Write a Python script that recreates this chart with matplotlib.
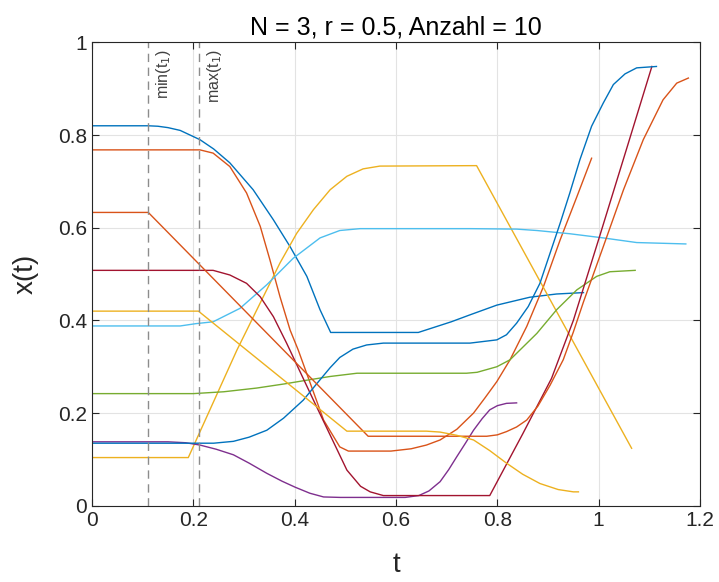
import matplotlib
matplotlib.use('Agg')
import matplotlib.pyplot as plt

plt.rcParams['font.family'] = ['Liberation Sans', 'DejaVu Sans']

# digitised trajectories (t, x)
t1 = [0, 0.111, 0.13, 0.15, 0.174, 0.213, 0.24, 0.272, 0.318, 0.358, 0.391, 0.424, 0.450, 0.471,
      0.644, 0.709, 0.746, 0.799, 0.864, 0.917, 0.970]
x1 = [0.820, 0.820, 0.819, 0.816, 0.810, 0.790, 0.770, 0.740, 0.682, 0.617, 0.559, 0.495, 0.423, 0.374,
      0.374, 0.397, 0.412, 0.433, 0.450, 0.457, 0.460]

t2 = [0, 0.213, 0.239, 0.272, 0.305, 0.332, 0.351, 0.371, 0.391, 0.407, 0.457, 0.489, 0.506,
      0.59, 0.63, 0.66, 0.687, 0.72, 0.753, 0.775, 0.799, 0.825, 0.858, 0.891, 0.924, 0.957, 0.986]
x2 = [0.768, 0.768, 0.761, 0.732, 0.675, 0.603, 0.531, 0.451, 0.379, 0.336, 0.185, 0.127, 0.118,
      0.118, 0.123, 0.131, 0.142, 0.165, 0.200, 0.232, 0.268, 0.315, 0.387, 0.473, 0.574, 0.667, 0.750]

t3 = [0, 0.190, 0.286, 0.338, 0.371, 0.404, 0.437, 0.470, 0.503, 0.535, 0.568, 0.759, 1.065]
x3 = [0.104, 0.104, 0.336, 0.451, 0.524, 0.588, 0.639, 0.682, 0.711, 0.727, 0.733, 0.734, 0.124]

t4 = [0, 0.15, 0.185, 0.213, 0.245, 0.279, 0.31, 0.345, 0.375, 0.401, 0.43, 0.457, 0.49,
      0.618, 0.645, 0.665, 0.687, 0.704, 0.720, 0.737, 0.753, 0.77, 0.785, 0.80, 0.818, 0.838]
x4 = [0.138, 0.138, 0.136, 0.131, 0.122, 0.110, 0.092, 0.070, 0.053, 0.040, 0.027, 0.019, 0.018,
      0.018, 0.022, 0.032, 0.052, 0.078, 0.106, 0.135, 0.163, 0.188, 0.207, 0.216, 0.221, 0.222]

t5 = [0, 0.2, 0.26, 0.325, 0.38, 0.424, 0.47, 0.523, 0.739, 0.76, 0.799, 0.825, 0.878, 0.917, 0.957,
      0.996, 1.022, 1.072]
x5 = [0.242, 0.242, 0.246, 0.254, 0.263, 0.271, 0.279, 0.286, 0.286, 0.288, 0.300, 0.315, 0.372, 0.423, 0.466,
      0.495, 0.505, 0.508]

t6 = [0, 0.174, 0.205, 0.239, 0.292, 0.345, 0.397, 0.450, 0.489, 0.529, 0.746, 0.838, 0.878, 0.943,
      1.009, 1.075, 1.172]
x6 = [0.388, 0.388, 0.393, 0.397, 0.426, 0.477, 0.534, 0.578, 0.594, 0.598, 0.598, 0.597, 0.594, 0.587,
      0.578, 0.568, 0.565]

t7 = [0, 0.239, 0.272, 0.305, 0.332, 0.358, 0.384, 0.437, 0.503, 0.53, 0.549, 0.575,
      0.785, 0.85, 0.907, 0.95, 1.0, 1.055, 1.105]
x7 = [0.508, 0.508, 0.498, 0.480, 0.451, 0.408, 0.351, 0.228, 0.077, 0.042, 0.030, 0.022,
      0.022, 0.155, 0.275, 0.400, 0.575, 0.770, 0.948]

t8 = [0, 0.24, 0.279, 0.31, 0.345, 0.378, 0.417, 0.444, 0.47, 0.489, 0.515, 0.542, 0.575, 0.746,
      0.799, 0.818, 0.838, 0.861, 0.884, 0.904, 0.924, 0.943, 0.963, 0.986, 1.009, 1.029, 1.052, 1.075, 1.114]
x8 = [0.135, 0.135, 0.139, 0.148, 0.163, 0.189, 0.228, 0.264, 0.298, 0.320, 0.338, 0.347, 0.351, 0.351,
      0.358, 0.369, 0.394, 0.430, 0.480, 0.545, 0.610, 0.675, 0.747, 0.819, 0.869, 0.909, 0.932, 0.945, 0.948]

t9 = [0, 0.111, 0.545, 0.779, 0.80, 0.818, 0.838, 0.858, 0.88, 0.904, 0.930, 0.950, 0.970, 1.009,
      1.049, 1.088, 1.127, 1.154, 1.177]
x9 = [0.633, 0.633, 0.150, 0.150, 0.153, 0.160, 0.170, 0.185, 0.215, 0.260, 0.315, 0.375, 0.440, 0.559,
      0.682, 0.790, 0.876, 0.912, 0.923]

t10 = [0, 0.210, 0.503, 0.66, 0.687, 0.72, 0.753, 0.785, 0.818, 0.85, 0.884, 0.92, 0.950, 0.96]
x10 = [0.420, 0.420, 0.161, 0.161, 0.159, 0.152, 0.142, 0.119, 0.092, 0.068, 0.048, 0.035, 0.030, 0.030]

series = [(t1, x1), (t2, x2), (t3, x3), (t4, x4), (t5, x5),
          (t6, x6), (t7, x7), (t8, x8), (t9, x9), (t10, x10)]

t1_min = 0.111
t1_max = 0.211

# MATLAB default colour order
colors = ['#0072BD', '#D95319', '#EDB120', '#7E2F8E', '#77AC30',
          '#4DBEEE', '#A2142F', '#0072BD', '#D95319', '#EDB120']

fig = plt.figure(figsize=(7.19, 5.82), dpi=100)
ax = fig.add_axes([0.128, 0.131, 0.8456, 0.7962])

for (t, x), c in zip(series, colors):
    ax.plot(t, x, color=c, lw=1.0)

for tv, lab in [(t1_min, 'min(t$_1$)'), (t1_max, 'max(t$_1$)')]:
    ax.axvline(tv, color='#8c8c8c', lw=1.0, ls=(0, (6, 4)))
    ax.text(tv + 0.012, 0.985, lab, rotation=90, va='top', ha='left',
            fontsize=11.5, color='#404040')

ax.set_xlim(0, 1.2)
ax.set_ylim(0, 1)
ax.set_xticks([0, 0.2, 0.4, 0.6, 0.8, 1.0, 1.2])
ax.set_xticklabels(['0', '0.2', '0.4', '0.6', '0.8', '1', '1.2'])
ax.set_yticks([0, 0.2, 0.4, 0.6, 0.8, 1.0])
ax.set_yticklabels(['0', '0.2', '0.4', '0.6', '0.8', '1'])
ax.grid(True, color='#e3e3e3', lw=0.8)
ax.set_axisbelow(True)
ax.tick_params(direction='in', top=True, right=True, labelsize=15,
               colors='#262626', length=5, width=0.8)
for s in ax.spines.values():
    s.set_color('#262626')
    s.set_linewidth(0.8)

ax.set_xlabel('t', fontsize=20, color='#262626', labelpad=16)
ax.set_ylabel('x(t)', fontsize=20, color='#262626', labelpad=14)
ax.set_title('N = 3, r = 0.5, Anzahl = 10', fontsize=18, color='#000000', pad=6)

fig.savefig('out.png', dpi=100)
